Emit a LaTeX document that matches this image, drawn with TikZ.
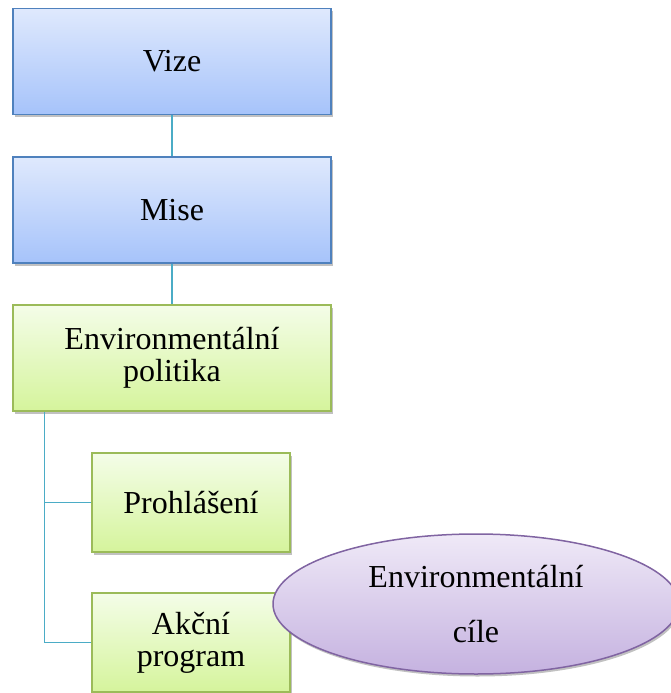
\documentclass[tikz,border=0pt]{standalone}
\usepackage{tikz}
\usetikzlibrary{calc,shadows,shapes.geometric}
\usepackage{fontspec}
\setmainfont{Liberation Serif}
\newfontfamily\chartfont{Liberation Serif}

\definecolor{blueline}{HTML}{4F81BD}
\definecolor{bluetop}{HTML}{DFE9FD}
\definecolor{bluebottom}{HTML}{A6C3FA}
\definecolor{greenline}{HTML}{9BBB59}
\definecolor{greentop}{HTML}{F4FDE8}
\definecolor{greenbottom}{HTML}{D5F49C}
\definecolor{violetline}{HTML}{8064A2}
\definecolor{violettop}{HTML}{EFE9F7}
\definecolor{violetbottom}{HTML}{C5B2E0}
\definecolor{linkline}{HTML}{4BACC6}

\tikzset{
  boxshadow/.style={drop shadow={shadow xshift=1.5pt,shadow yshift=-2.5pt,opacity=0.35,fill=black!70}},
  bluebox/.style={rectangle,draw=blueline,line width=1.5pt,top color=bluetop,bottom color=bluebottom,
    minimum width=318pt,minimum height=106pt,inner sep=0pt,align=center,
    font=\chartfont\fontsize{32}{32}\selectfont,boxshadow},
  greenbox/.style={bluebox,draw=greenline,top color=greentop,bottom color=greenbottom},
  smallbox/.style={greenbox,minimum width=198pt,minimum height=99pt},
  goaloval/.style={ellipse,draw=violetline,line width=1.5pt,top color=violettop,bottom color=violetbottom,
    minimum width=406pt,minimum height=140pt,inner sep=0pt,align=center,
    font=\chartfont\fontsize{32}{55}\selectfont,boxshadow},
  link/.style={draw=linkline,line width=1.5pt}
}

\begin{document}
\begin{tikzpicture}[x=1pt,y=-1pt]
\useasboundingbox (0,0) rectangle (671,693);
% hierarchy
\node[bluebox] (vize) at (172,61.5) {Vize};
\node[bluebox] (mise) at (172,210) {Mise};
\node[greenbox] (politika) at (172,358) {Environmentální\\politika};
\node[smallbox] (prohlaseni) at (191,502.5) {Prohlášení};
\node[smallbox] (akcni) at (191,642.5) {Akční\\program};
\node[goaloval] (cile) at (476,604) {Environmentální\\cíle};
% connectors
\draw[link] (vize.south) -- (mise.north);
\draw[link] (mise.south) -- (politika.north);
\coordinate (trunk) at ([xshift=32pt]politika.south west);
\draw[link] (trunk) |- (prohlaseni.west);
\draw[link] (trunk) |- (akcni.west);
\end{tikzpicture}
\end{document}
